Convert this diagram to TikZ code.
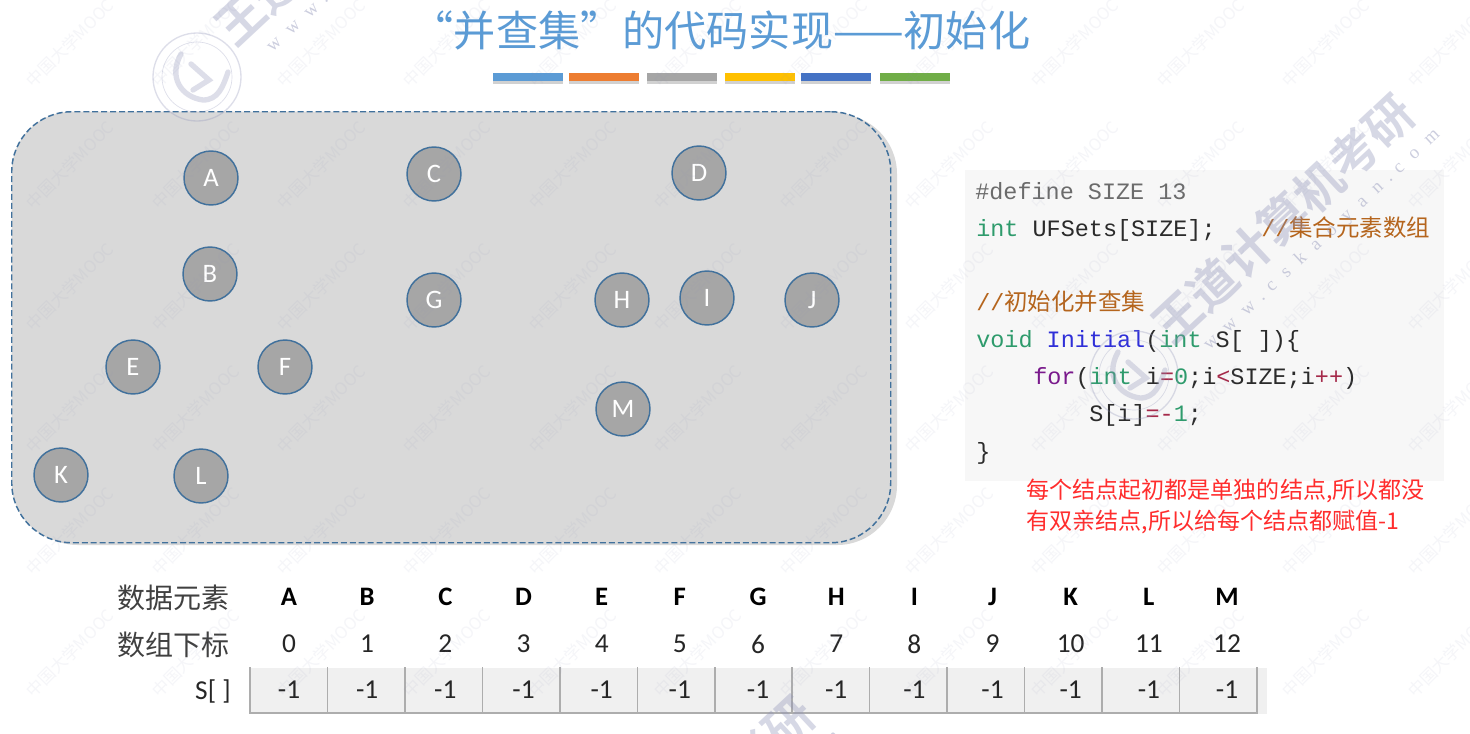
\documentclass[tikz,border=0pt]{standalone}
\usepackage{fontspec}
\setmainfont{Carlito}
\newfontfamily\cjk{Noto Sans CJK SC}
\newfontfamily\cjkb{Noto Sans CJK SC Bold}
\newfontfamily\codef{Liberation Mono}
\newfontfamily\wwwf{Liberation Serif}
\definecolor{titleblue}{HTML}{5B9BD5}
\definecolor{edgeblue}{HTML}{41719C}
\definecolor{kw}{HTML}{2E9B6C}
\definecolor{fn}{HTML}{2F2FD8}
\definecolor{fr}{HTML}{7A1A8C}
\definecolor{op}{HTML}{A52A4A}
\definecolor{cm}{HTML}{B5651D}
\definecolor{ink}{HTML}{2B2B2B}
\definecolor{wm}{HTML}{8F93B8}
\definecolor{redtxt}{HTML}{FF2D2D}
\definecolor{codebg}{HTML}{F7F7F7}
\newcommand{\fs}[1]{\fontsize{#1}{#1}\selectfont}
\newcommand{\ck}[1]{\textcolor{kw}{#1}}
\newcommand{\co}[1]{\textcolor{op}{#1}}
\tikzset{
  x=0.75pt,y=-0.75pt,
  elem/.style={circle,draw=edgeblue,line width=1.1pt,fill=black!35,minimum size=40.5pt,inner sep=0pt,text=white,font=\fs{20}},
  bar/.style={minimum width=52.5pt,minimum height=6pt,inner sep=0pt},
  codeline/.style={anchor=base west,inner sep=0pt,font=\codef\fs{17.6},text=ink},
  hdr/.style={anchor=east,inner sep=0pt,font=\fs{20.5},text=black!85},
  cjkhdr/.style={anchor=east,inner sep=0pt,font=\cjk\fs{21},text=black!75},
  cellt/.style={inner sep=0pt,font=\fs{20.5},text=black!85},
  redt/.style={anchor=base west,inner sep=0pt,font=\cjk\fs{17.3},text=redtxt},
  markw/.style={rotate=45,inner sep=0pt,font=\cjk\fs{12.5},text=wm,text opacity=.085},
  markb/.style={rotate=43,inner sep=0pt,font=\cjkb\fs{36},text=wm,text opacity=.36},
  markc/.style={rotate=43,inner sep=0pt,font=\wwwf\fs{14},text=wm,text opacity=.45},
  seal/.style={draw=wm,opacity=.3},
}
\begin{document}
\begin{tikzpicture}
\useasboundingbox (0,0) rectangle (1470,733);
\fill[white] (0,0) rectangle (1470,733);

% title
\node[inner sep=0pt,font=\cjk\fs{31.6},text=titleblue] (title) at (721,30) {“并查集”的代码实现——初始化};
\foreach \n/\cx/\c in {b1/528/5B9BD5,b2/604/ED7D31,b3/682/A5A5A5,b4/760/FFC000,b5/836/4472C4,b6/915/70AD47}{
  \definecolor{tmpc}{HTML}{\c}
  \fill[black!18] (\cx-35,79) rectangle (\cx+35,84);
  \node[bar,fill=tmpc] (\n) at (\cx,77) {};
}

% big region
\fill[black!15,rounded corners=45pt] (18,114) rectangle (897,545);
\node[draw=edgeblue,dash pattern=on 4.5pt off 2.2pt,line width=1.1pt,fill=black!15,rounded corners=45pt,
      minimum width=659.25pt,minimum height=323.25pt,inner sep=0pt,anchor=north west] (region) at (11,111) {};

% elements
\foreach \n/\px/\py in {A/211/178,B/210/274,C/434/174,D/699/173,E/133/367,F/285/367,G/434/300,H/622/300,I/707/298,J/812/300,K/61/475,L/201/476,M/623/409}{
  \node[elem] (n\n) at (\px,\py) {\n};
}

% code
\fill[codebg] (965,170) rectangle (1444,481);
\node[codeline] (c1) at (975,199) {\textcolor{black!58}{\#define SIZE 13}};
\node[codeline] (c2) at (976,236) {\ck{int} UFSets[SIZE];};
\node[codeline] (c2b) at (1261,236) {\textcolor{cm}{//{\cjk 集合元素数组}}};
\node[codeline] (c3) at (976,310) {\textcolor{cm}{//{\cjk 初始化并查集}}};
\node[codeline] (c4) at (976,347) {\ck{void} \textcolor{fn}{Initial}(\ck{int} S[ ])\{};
\node[codeline] (c5) at (1033,384) {\textcolor{fr}{for}(\ck{int} i\co{=}\ck{0};i\co{<}SIZE;i\co{++})};
\node[codeline] (c6) at (1089,421) {S[i]\co{=-}\ck{1};};
\node[codeline] (c7) at (976,459) {\}};

\node[redt] (r1) at (1026,498) {每个结点起初都是单独的结点,所以都没};
\node[redt] (r2) at (1026,529) {有双亲结点,所以给每个结点都赋值-1};

% table
\fill[black!6] (250,668) rectangle (1267,714);
\foreach \i in {0,...,13}{
  \draw[black!32,line width=1.1pt] ({250+\i*77.46},667) -- ({250+\i*77.46},713);
}
\draw[black!32,line width=1.1pt] (249,713) -- (1258,713);
\node[cjkhdr] (h1) at (230,598) {数据元素};
\node[cjkhdr] (h2) at (230,645) {数组下标};
\node[hdr] (h3) at (231,691) {S[ ]};
\foreach \t [count=\i from 0] in {A,B,C,D,E,F,G,H,I,J,K,L,M}{
  \pgfmathsetmacro{\cx}{289+\i*78.17}
  \node[cellt,font=\bfseries\fs{20},text=black] (t\i) at (\cx,597) {\t};
  \node[cellt] (u\i) at (\cx,644) {\i};
  \node[cellt] (v\i) at (\cx,690) {-1};
}

% watermarks
\begin{scope}
\clip (0,0) rectangle (1470,733);
\foreach \r in {0,...,5}{
  \foreach \c in {0,...,11}{
    \node[markw] (w\r x\c) at ({70+\c*125.6},{43+\r*122}) {中国大学MOOC};
  }
}
\foreach \k/\dx/\dy in {p/0/0,q/-937/-298,s/-600/602}{
  \begin{scope}[shift={(\dx,\dy)}]
    \node[markb,anchor=center] (big\k) at (1283,219) {王道计算机考研};
    \node[markc] (url\k) at (1322,240) {w\hspace{9pt}w\hspace{9pt}w\hspace{6pt}.\hspace{6pt}c\hspace{9pt}s\hspace{9pt}k\hspace{9pt}a\hspace{9pt}o\hspace{9pt}y\hspace{9pt}a\hspace{9pt}n\hspace{6pt}.\hspace{6pt}c\hspace{9pt}o\hspace{9pt}m};
    \draw[seal,line width=1pt] (1134,375) circle [radius=44];
    \draw[seal,line width=.5pt] (1134,375) circle [radius=35];
    \draw[seal,line width=4pt,line cap=round] (1118,352) .. controls (1105,375) and (1118,395) .. (1140,398) .. controls (1155,398) and (1160,385) .. (1165,370);
    \draw[seal,line width=4pt,line cap=round] (1128,362) -- (1146,378) -- (1130,388);
  \end{scope}
}
\end{scope}
\end{tikzpicture}
\end{document}
